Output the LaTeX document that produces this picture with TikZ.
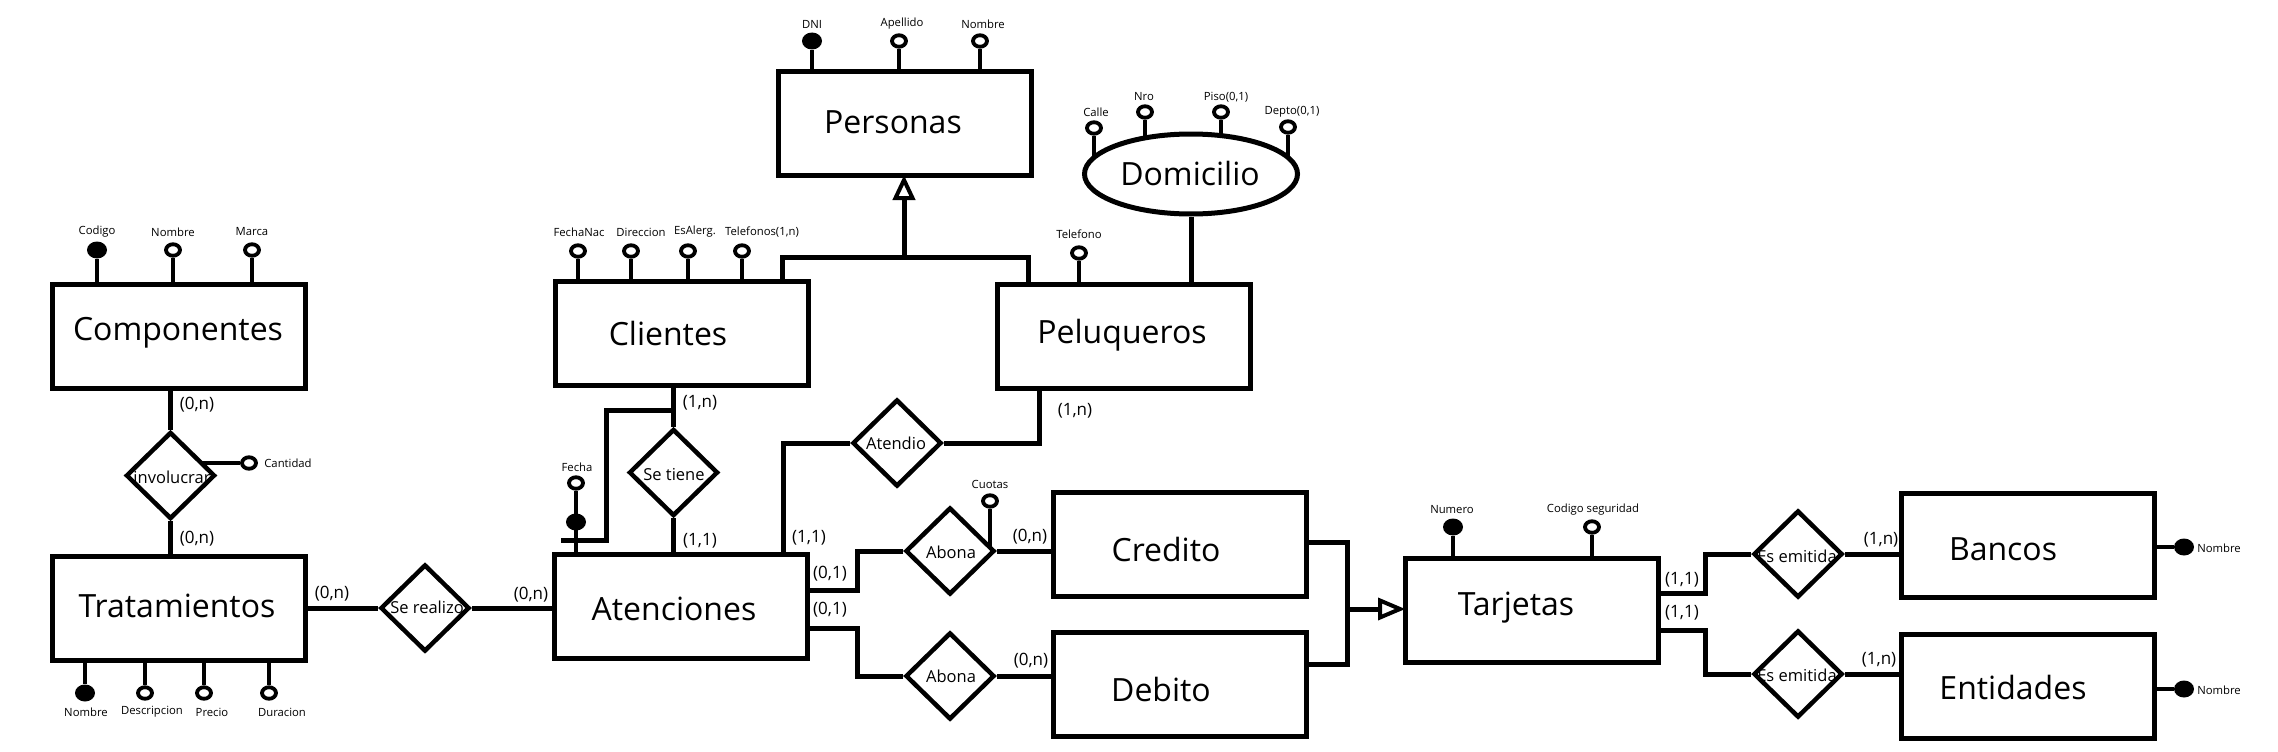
\documentclass[tikz,border=0pt]{standalone}
\usepackage{fontspec}
\setmainfont{Open Sans}
\usetikzlibrary{shapes.geometric,backgrounds}
\begin{document}
\begin{tikzpicture}[x=1pt,y=-1pt,
  entity/.style={draw, rectangle, line width=5pt, minimum width=253pt, minimum height=104pt, inner sep=0pt, fill=white},
  rel/.style={draw, diamond, line width=4.5pt, minimum width=89pt, minimum height=87pt, inner sep=0pt, fill=white},
  conn/.style={line width=5pt},
  stem/.style={line width=4pt},
  attro/.style={draw, ellipse, line width=3.8pt, minimum width=14pt, minimum height=11.5pt, inner sep=0pt, fill=white},
  attrf/.style={fill, ellipse, minimum width=20pt, minimum height=17pt, inner sep=0pt},
  etext/.style={font=\fontsize{32}{38}\selectfont, inner sep=0pt},
  rtext/.style={font=\fontsize{16.5}{20}\selectfont, inner sep=0pt},
  card/.style={font=\fontsize{17}{20}\selectfont, inner sep=0pt},
  atext/.style={font=\fontsize{11.3}{13}\selectfont, inner sep=0pt},
  tri/.style={draw, line width=4pt, fill=white, line join=miter}
]
\begin{scope}[on background layer]
\fill[white] (0,0) rectangle (2278,752);
\end{scope}
\useasboundingbox (0,0) rectangle (2278,752);

% entities
\node[entity] (comp) at (179,336) {};
\node[etext] (compt) at (178,333) {Componentes};
\node[entity] (trat) at (179,608.5) {};
\node[etext] (tratt) at (177,606) {Tratamientos};
\node[entity] (pers) at (905,123.5) {};
\node[etext] (perst) at (893,122) {Personas};
\node[entity] (cli) at (681.5,333.5) {};
\node[etext] (clit) at (668,333) {Clientes};
\node[entity] (pel) at (1123.5,336.5) {};
\node[etext] (pelt) at (1122,335) {Peluqueros};
\node[entity] (aten) at (680.5,606.5) {};
\node[etext] (atent) at (674,609) {Atenciones};
\node[entity] (cred) at (1179.5,544) {};
\node[etext] (credt) at (1166,549) {Credito};
\node[entity] (deb) at (1179.5,684.5) {};
\node[etext] (debt) at (1161,689) {Debito};
\node[entity] (tar) at (1531.5,610) {};
\node[etext] (tart) at (1516,608) {Tarjetas};
\node[entity] (ban) at (2027.5,545.5) {};
\node[etext] (bant) at (2003,549) {Bancos};
\node[entity] (ent) at (2027.5,686) {};
\node[etext] (entt) at (2013,687) {Entidades};
\node[draw, ellipse, line width=5pt, minimum width=213pt, minimum height=80pt, inner sep=0pt, fill=white] (dom) at (1191,174) {};
\node[etext] (domt) at (1190,173) {Domicilio};

% relationships
\node[rel] (inv) at (170.5,475.5) {};
\node[rtext] (invt) at (172,477) {involucrar};
\node[rel] (ser) at (425,608) {};
\node[rtext] (sert) at (427,607) {Se realizo};
\node[rel] (st) at (673.5,472.5) {};
\node[rtext] (stt) at (674,475) {Se tiene};
\node[rel] (atd) at (897,443) {};
\node[rtext] (atdt) at (896,443) {Atendio};
\node[rel] (ab1) at (950,551) {};
\node[rtext] (ab1t) at (951,552) {Abona};
\node[rel] (ab2) at (950,676) {};
\node[rtext] (ab2t) at (951,676) {Abona};
\node[rel] (em1) at (1798,554) {};
\node[rtext] (em1t) at (1797,556) {Es emitida};
\node[rel] (em2) at (1798,674) {};
\node[rtext] (em2t) at (1797,675) {Es emitida};

% attributes: Componentes
\node[attrf] (ccod) at (97,250) {};
\node[atext] (ccodl) at (97,232) {Codigo};
\node[attro] (cnom) at (173,250) {};
\node[atext] (cnoml) at (173,232) {Nombre};
\node[attro] (cmar) at (252,250) {};
\node[atext] (cmarl) at (252,232) {Marca};
\foreach \a in {ccod,cnom,cmar} \draw[stem] (\a) -- (\a |- comp.north);

% Tratamientos
\node[attrf] (tnom) at (85,693) {};
\node[atext] (tnoml) at (86,712) {Nombre};
\node[attro] (tdes) at (145,693) {};
\node[atext] (tdesl) at (152,712) {Descripcion};
\node[attro] (tpre) at (204,693) {};
\node[atext] (tprel) at (212,712) {Precio};
\node[attro] (tdur) at (269,693) {};
\node[atext] (tdurl) at (282,712) {Duracion};
\foreach \a in {tnom,tdes,tpre,tdur} \draw[stem] (\a) -- (\a |- trat.south);

% Personas
\node[attrf] (pdni) at (812,41) {};
\node[atext] (pdnil) at (812,24) {DNI};
\node[attro] (pape) at (899,41) {};
\node[atext] (papel) at (902,24) {Apellido};
\node[attro] (pnom) at (980,41) {};
\node[atext] (pnoml) at (983,24) {Nombre};
\foreach \a in {pdni,pape,pnom} \draw[stem] (\a) -- (\a |- pers.north);

% Domicilio
\node[attro] (dcal) at (1094,128) {};
\node[atext] (dcall) at (1096,112) {Calle};
\node[attro] (dnro) at (1145,112) {};
\node[atext] (dnrol) at (1144,97) {Nro};
\node[attro] (dpis) at (1221,112) {};
\node[atext] (dpisl) at (1226,97) {Piso(0,1)};
\node[attro] (ddep) at (1288,127) {};
\node[atext] (ddepl) at (1292,112) {Depto(0,1)};

% Clientes
\node[attro] (cfec) at (578,251) {};
\node[atext] (cfecl) at (579,232) {FechaNac};
\node[attro] (cdir) at (631,251) {};
\node[atext] (cdirl) at (641,232) {Direccion};
\node[attro] (cesa) at (688,251) {};
\node[atext] (cesal) at (695,232) {EsAlerg.};
\node[attro] (ctel) at (742,251) {};
\node[atext] (ctell) at (762,232) {Telefonos(1,n)};
\foreach \a in {cfec,cdir,cesa,ctel} \draw[stem] (\a) -- (\a |- cli.north);

% Peluqueros
\node[attro] (ptel) at (1079,253) {};
\node[atext] (ptell) at (1079,234) {Telefono};
\draw[stem] (ptel) -- (ptel |- pel.north);

% Atenciones identifier
\node[attro] (afec) at (576,483) {};
\node[atext] (afecl) at (577,467) {Fecha};
\draw[stem] (afec) -- (afec |- aten.north);
\node[attrf] (afk) at (576,522) {};

% Cuotas
\node[attro] (cuo) at (990,501) {};
\node[atext] (cuol) at (990,484) {Cuotas};

% Cantidad
\node[attro] (cant) at (249,463) {};
\node[atext] (cantl) at (288,463) {Cantidad};

% Tarjetas
\node[attrf] (tnum) at (1453,527) {};
\node[atext] (tnuml) at (1452,510) {Numero};
\node[attro] (tcod) at (1592,527) {};
\node[atext] (tcodl) at (1593,510) {Codigo seguridad};
\foreach \a in {tnum,tcod} \draw[stem] (\a) -- (\a |- tar.north);

% Bancos / Entidades
\node[attrf] (bnom) at (2184,547) {};
\node[atext] (bnoml) at (2219,548) {Nombre};
\draw[stem] (bnom) -- (bnom -| ban.east);
\node[attrf] (enom) at (2184,689) {};
\node[atext] (enoml) at (2219,690) {Nombre};
\draw[stem] (enom) -- (enom -| ent.east);

% stems hidden behind shapes
\begin{scope}[on background layer]
\foreach \a in {dcal,dnro,dpis,ddep} \draw[stem] (\a) -- (\a |- dom.center);
\draw[stem] (cuo) -- (cuo |- ab1.center);
\draw[stem] (cant) -- (cant -| inv.center);
\end{scope}

% connectors
\draw[conn] (inv.north) -- (inv.north |- comp.south);
\draw[conn] (inv.south) -- (inv.south |- trat.north);
\draw[conn] (ser.west -| trat.east) -- (ser.west);
\draw[conn] (ser.east) -- (ser.east -| aten.west);
\draw[conn] (st.north) -- (st.north |- cli.south);
\draw[conn] (st.south) -- (st.south |- aten.north);
\coordinate (fj1) at (673.5,410);
\coordinate (fj2) at (606,410);
\coordinate (fj3) at (606,540);
\coordinate (fj4) at (561,540);
\draw[conn] (fj1) -- (fj2) -- (fj3) -- (fj4);

\coordinate (ad1) at (783,0);
\draw[conn] (atd.west) -| (ad1 |- aten.north);
\coordinate (ad2) at (1039,0);
\draw[conn] (atd.east) -| (ad2 |- pel.south);

\coordinate (abj1) at (857,590);
\draw[conn] (ab1.west) -| (abj1) -- (abj1 -| aten.east);
\coordinate (abj2) at (857,628);
\draw[conn] (ab2.west) -| (abj2) -- (abj2 -| aten.east);
\draw[conn] (ab1.east) -- (ab1.east -| cred.west);
\draw[conn] (ab2.east) -- (ab2.east -| deb.west);

% generalisation Credito/Debito -> Tarjetas
\coordinate (mg1) at (1347,542);
\coordinate (mg2) at (1347,664);
\coordinate (mg3) at (1347,609);
\coordinate (mgb) at (1380,609);
\draw[conn] (mg1 -| cred.east) -- (mg1) -- (mg2) -- (mg2 -| deb.east);
\draw[conn] (mg3) -- (mgb);
\draw[tri] (1400,609) -- (1380,600.5) -- (1380,617.5) -- cycle;

% generalisation Clientes/Peluqueros -> Personas
\coordinate (ih0) at (904,257);
\coordinate (ih1) at (782,257);
\coordinate (ih2) at (1028,257);
\coordinate (ihb) at (904,198);
\draw[conn] (ih1 |- cli.north) -- (ih1) -- (ih2) -- (ih2 |- pel.north);
\draw[conn] (ih0) -- (ihb);
\draw[tri] (904,180) -- (895.5,198) -- (912.5,198) -- cycle;

\draw[conn] (dom.south) -- (dom.south |- pel.north);

\coordinate (tj1) at (1705,593);
\draw[conn] (tj1 -| tar.east) -- (tj1) |- (em1.west);
\coordinate (tj2) at (1705,630);
\draw[conn] (tj2 -| tar.east) -- (tj2) |- (em2.west);
\draw[conn] (em1.east) -- (em1.east -| ban.west);
\draw[conn] (em2.east) -- (em2.east -| ent.west);

% cardinalities
\node[card] (k1) at (197,405) {(0,n)};
\node[card] (k2) at (197,539) {(0,n)};
\node[card] (k3) at (332,594) {(0,n)};
\node[card] (k4) at (531,595) {(0,n)};
\node[card] (k5) at (700,403) {(1,n)};
\node[card] (k6) at (700,541) {(1,1)};
\node[card] (k7) at (809,538) {(1,1)};
\node[card] (k8) at (1075,411) {(1,n)};
\node[card] (k9) at (830,574) {(0,1)};
\node[card] (k10) at (830,610) {(0,1)};
\node[card] (k11) at (1030,537) {(0,n)};
\node[card] (k12) at (1031,661) {(0,n)};
\node[card] (k13) at (1682,580) {(1,1)};
\node[card] (k14) at (1682,613) {(1,1)};
\node[card] (k15) at (1881,540) {(1,n)};
\node[card] (k16) at (1879,660) {(1,n)};
\end{tikzpicture}
\end{document}
